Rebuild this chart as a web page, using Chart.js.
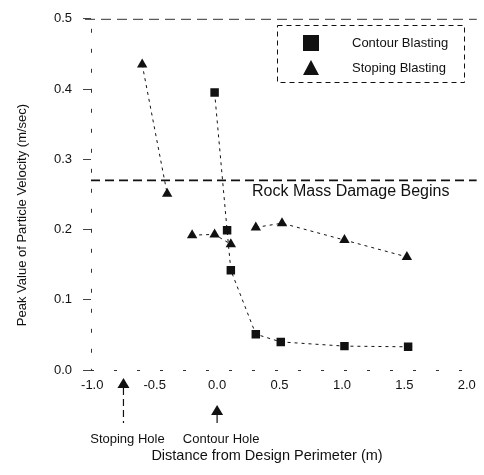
<!DOCTYPE html>
<html>
<head>
<meta charset="utf-8">
<script src="https://cdn.jsdelivr.net/npm/chart.js@4.4.1/dist/chart.umd.min.js"></script>
<style>
  html, body { margin: 0; padding: 0; background: #fff; }
  #wrap { width: 484px; height: 475px; }
</style>
</head>
<body>
<div id="wrap"><canvas id="blastChart"></canvas></div>
<script>
// distance from design perimeter (m) / peak particle velocity (m/sec)
const contourDist = [-0.02, 0.08, 0.11, 0.31, 0.51, 1.02, 1.53]
const contourPPV = [0.395, 0.199, 0.142, 0.051, 0.040, 0.034, 0.033]

// null -> gap in the dashed fit line
const stopingDist = [-0.60, -0.40, -0.30, -0.20, -0.02, 0.11, 0.21, 0.31, 0.52, 1.02, 1.52]
const stopingPPV = [0.435, 0.251, null, 0.192, 0.193, 0.179, null, 0.203, 0.209, 0.185, 0.161]

const damageLevel = 0.27
const damageLabel = 'Rock Mass Damage Begins'

const holeNames = ['Stoping Hole', 'Contour Hole']
const holeDist = [-0.75, 0.0]

const xTicks = [-1.0, -0.5, 0.0, 0.5, 1.0, 1.5, 2.0]
const yTicks = [0.0, 0.1, 0.2, 0.3, 0.4, 0.5]
const xMin = -1.01, xMax = 2.08

const seriesNames = ['Contour Blasting', 'Stoping Blasting']

const FONT = '"Liberation Sans", Arial, sans-serif'
const INK = '#111'

const toPoints = (xs, ys) => xs.map((v, i) => ({ x: v, y: ys[i] }))

// the scanned frame is only a broken dashed line, chart.js borders can't dash
const frame = {
	id: 'frame',
	beforeDatasetsDraw(chart) {
		const { ctx, chartArea: a } = chart
		ctx.save()
		ctx.strokeStyle = '#333'
		ctx.lineWidth = 1
		ctx.setLineDash([10, 6])
		ctx.beginPath()
		ctx.moveTo(85, a.top + 0.5)
		ctx.lineTo(a.right, a.top + 0.5)
		ctx.stroke()
		ctx.setLineDash([4, 16])
		ctx.beginPath()
		ctx.moveTo(a.left + 0.5, a.top + 10)
		ctx.lineTo(a.left + 0.5, a.bottom)
		ctx.stroke()
		ctx.setLineDash([3, 20])
		ctx.beginPath()
		ctx.moveTo(a.left, a.bottom + 0.5)
		ctx.lineTo(a.right, a.bottom + 0.5)
		ctx.stroke()
		ctx.restore()
	},
}

const decor = {
	id: 'decor',
	afterDraw(chart) {
		const { ctx, scales: { x, y } } = chart
		ctx.save()
		ctx.fillStyle = INK
		ctx.strokeStyle = INK

		// damage label under the dashed line
		ctx.font = '16px ' + FONT
		ctx.textAlign = 'left'
		ctx.textBaseline = 'middle'
		ctx.fillText(damageLabel, x.getPixelForValue(0.28), y.getPixelForValue(damageLevel) + 11)

		// axis titles
		ctx.font = '13px ' + FONT
		ctx.textAlign = 'center'
		ctx.save()
		ctx.translate(22, 215)
		ctx.rotate(-Math.PI / 2)
		ctx.fillText('Peak Value of Particle Velocity (m/sec)', 0, 0)
		ctx.restore()
		ctx.font = '14.5px ' + FONT
		ctx.fillText('Distance from Design Perimeter (m)', 267, 456)

		// hole arrows
		const tips = [378, 405]
		ctx.font = '13px ' + FONT
		holeDist.forEach((d, i) => {
			const px = x.getPixelForValue(d)
			const tip = tips[i]
			ctx.beginPath()
			ctx.moveTo(px, tip)
			ctx.lineTo(px - 6, tip + 10)
			ctx.lineTo(px + 6, tip + 10)
			ctx.closePath()
			ctx.fill()
			ctx.lineWidth = 1.2
			ctx.setLineDash(i === 0 ? [7, 4] : [])
			ctx.beginPath()
			ctx.moveTo(px, tip + 10)
			ctx.lineTo(px, 423)
			ctx.stroke()
			ctx.setLineDash([])
			ctx.fillText(holeNames[i], px + 4, 439)
		})

		// legend box
		ctx.lineWidth = 1
		ctx.setLineDash([5, 4])
		ctx.strokeRect(277.5, 25.5, 187, 57)
		ctx.setLineDash([])
		ctx.fillRect(303, 35, 16, 16)
		ctx.beginPath()
		ctx.moveTo(311, 60)
		ctx.lineTo(303, 75)
		ctx.lineTo(319, 75)
		ctx.closePath()
		ctx.fill()
		ctx.font = '13px ' + FONT
		ctx.textAlign = 'left'
		ctx.fillText(seriesNames[0], 352, 43)
		ctx.fillText(seriesNames[1], 352, 68)
		ctx.restore()
	},
}

const ctx = document.getElementById('blastChart').getContext('2d')
const blastChart = new Chart(ctx, {
	type: 'line',
	data: {
		datasets: [
			{
				label: seriesNames[0],
				data: toPoints(contourDist, contourPPV),
				borderColor: INK,
				backgroundColor: INK,
				borderWidth: 1,
				borderDash: [3, 4],
				pointStyle: 'rect',
				pointRadius: 6,
				pointBorderWidth: 0,
				spanGaps: false,
			},
			{
				label: seriesNames[1],
				data: toPoints(stopingDist, stopingPPV),
				borderColor: INK,
				backgroundColor: INK,
				borderWidth: 1,
				borderDash: [3, 4],
				pointStyle: 'triangle',
				pointRadius: 6,
				pointBorderWidth: 0,
				spanGaps: false,
			},
			{
				label: damageLabel,
				data: [{ x: xMin, y: damageLevel }, { x: xMax, y: damageLevel }],
				borderColor: INK,
				borderWidth: 1.8,
				borderDash: [9, 5],
				pointRadius: 0,
			},
		],
	},
	options: {
		responsive: true,
		maintainAspectRatio: false,
		animation: false,
		layout: { padding: { top: 18, right: 4, left: 0, bottom: 0 } },
		plugins: {
			legend: { display: false },
			tooltip: { enabled: false },
		},
		scales: {
			x: {
				type: 'linear',
				min: xMin,
				max: xMax,
				afterBuildTicks: s => { s.ticks = xTicks.map(v => ({ value: v })) },
				afterFit: s => { s.height = 105 },
				grid: { drawOnChartArea: false, drawTicks: false },
				border: { display: false },
				ticks: {
					color: INK,
					font: { family: FONT, size: 13 },
					padding: 8,
					maxRotation: 0,
					callback: v => v.toFixed(1),
				},
			},
			y: {
				min: 0,
				max: 0.5,
				afterBuildTicks: s => { s.ticks = yTicks.map(v => ({ value: v })) },
				afterFit: s => { s.width = 91 },
				grid: { drawOnChartArea: false, drawTicks: true, tickLength: 8, color: '#444' },
				border: { display: false },
				ticks: {
					color: INK,
					font: { family: FONT, size: 13 },
					padding: 11,
					callback: v => v.toFixed(1),
				},
			},
		},
	},
	plugins: [frame, decor],
})
</script>
</body>
</html>
